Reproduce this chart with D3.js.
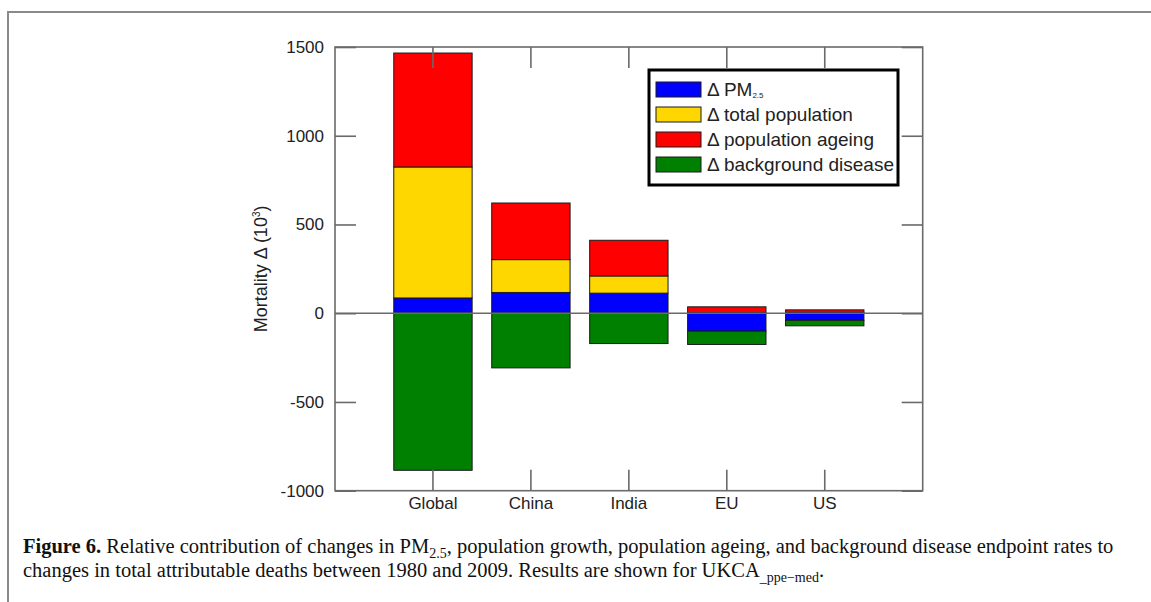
<!DOCTYPE html>
<html>
<head>
<meta charset="utf-8">
<script src="https://cdn.jsdelivr.net/npm/d3@7"></script>
<style>
  html, body { margin: 0; padding: 0; background: #fff; }
  svg { display: block; }
</style>
</head>
<body>
<svg id="chart" width="1151" height="602"></svg>
<script>
// ---- data ----
const categories = ["Global", "China", "India", "EU", "US"];
const pm25       = [86, 117, 113, -101, -40];
const totalPop   = [738, 185, 97, 3, 5];
const ageing     = [642, 319, 201, 33, 14];
const disease    = [-885, -308, -171, -75, -31];
const yTicks     = [-1000, -500, 0, 500, 1000, 1500];
const seriesKeys   = ["pm", "pop", "age", "dis"];
const seriesLabels = ["PM", "total population", "population ageing", "background disease"];
const seriesColors = ["#0000ff", "#ffd700", "#ff0000", "#008000"];

const rows = categories.map((c, i) => ({
  cat: c, pm: pm25[i], pop: totalPop[i], age: ageing[i], dis: disease[i]
}));

const svg = d3.select("#chart");
const L = 335, R = 922.7, T = 47, B = 490.7;
const sans = "'Liberation Sans', Arial, Helvetica, sans-serif";

// figure frame
svg.append("path")
  .attr("d", "M8,602 L8,12 L1151,12")
  .attr("fill", "none").attr("stroke", "#8a8a8a").attr("stroke-width", 2);

const x = d3.scaleBand().domain(categories).range([L, R])
  .paddingInner(0.2).paddingOuter(0.6);
const y = d3.scaleLinear().domain([-1000, 1500]).range([B, T]);

const stack = d3.stack().keys(seriesKeys).offset(d3.stackOffsetDiverging);
const stacked = stack(rows);

const g = svg.append("g");
g.selectAll("g.series").data(stacked).join("g")
  .attr("fill", (d, i) => seriesColors[i])
  .selectAll("rect").data(d => d).join("rect")
  .attr("x", d => x(d.data.cat))
  .attr("width", x.bandwidth())
  .attr("y", d => y(Math.max(d[0], d[1])))
  .attr("height", d => Math.abs(y(d[0]) - y(d[1])))
  .attr("stroke", "#1a1a1a").attr("stroke-width", 1);

const axisColor = "#6a6a6a";
const tickLen = 21;

function styleAxis(sel) {
  sel.select(".domain").remove();
  sel.selectAll(".tick line").attr("stroke", axisColor).attr("stroke-width", 1.6);
  sel.selectAll(".tick text")
    .attr("fill", "#222")
    .style("font-family", sans)
    .style("font-size", "17px");
}

svg.append("g").attr("transform", `translate(${L},0)`)
  .call(d3.axisLeft(y).tickValues(yTicks).tickSize(-tickLen).tickPadding(11)
    .tickFormat(d => String(d)))
  .call(styleAxis);
svg.append("g").attr("transform", `translate(${R},0)`)
  .call(d3.axisRight(y).tickValues(yTicks).tickSize(-tickLen).tickFormat(""))
  .call(styleAxis);
svg.append("g").attr("transform", `translate(0,${B})`)
  .call(d3.axisBottom(x).tickSize(-tickLen).tickPadding(6))
  .call(styleAxis);
svg.append("g").attr("transform", `translate(0,${T})`)
  .call(d3.axisTop(x).tickSize(-tickLen).tickFormat(""))
  .call(styleAxis);

// zero line
svg.append("line")
  .attr("x1", L).attr("x2", R).attr("y1", y(0)).attr("y2", y(0))
  .attr("stroke", axisColor).attr("stroke-width", 1.6);

// plot frame
svg.append("rect")
  .attr("x", L).attr("y", T).attr("width", R - L).attr("height", B - T)
  .attr("fill", "none").attr("stroke", axisColor).attr("stroke-width", 1.6);

// y-axis title
const yt = svg.append("text")
  .attr("transform", `translate(267,${(T + B) / 2}) rotate(-90)`)
  .attr("text-anchor", "middle")
  .attr("fill", "#222")
  .style("font-family", sans)
  .style("font-size", "18px");
yt.append("tspan").text("Mortality \u0394 (10");
yt.append("tspan").attr("dy", -7).style("font-size", "10px").text("3");
yt.append("tspan").attr("dy", 7).text(")");

// legend
const lg = svg.append("g");
lg.append("rect")
  .attr("x", 649).attr("y", 70).attr("width", 249).attr("height", 115)
  .attr("fill", "#fff").attr("stroke", "#000").attr("stroke-width", 3);
seriesLabels.forEach((lab, i) => {
  const yy = 82 + i * 25;
  lg.append("rect")
    .attr("x", 656).attr("y", yy).attr("width", 45).attr("height", 15)
    .attr("fill", seriesColors[i]).attr("stroke", "#1a1a1a").attr("stroke-width", 1);
  const t = lg.append("text")
    .attr("x", 707).attr("y", yy + 14)
    .attr("fill", "#222")
    .style("font-family", sans)
    .style("font-size", "19px");
  t.append("tspan").text("\u0394 " + lab);
  if (i === 0) {
    t.append("tspan").attr("dy", 2).style("font-size", "8px").text("2.5");
  }
});

// caption
const capFont = "'Liberation Serif', 'Times New Roman', serif";
const c1 = svg.append("text").attr("x", 23).attr("y", 553)
  .attr("fill", "#111").style("font-family", capFont).style("font-size", "20.5px");
c1.append("tspan").style("font-weight", "bold").text("Figure 6.");
c1.append("tspan").text(" Relative contribution of changes in PM");
c1.append("tspan").attr("dy", 5).style("font-size", "14px").text("2.5");
c1.append("tspan").attr("dy", -5).text(", population growth, population ageing, and background disease endpoint rates to");

const c2 = svg.append("text").attr("x", 23).attr("y", 577)
  .attr("fill", "#111").style("font-family", capFont).style("font-size", "20.5px");
c2.append("tspan").text("changes in total attributable deaths between 1980 and 2009. Results are shown for UKCA");
c2.append("tspan").attr("dy", 5).style("font-size", "14px").text("_ppe\u2212med");
c2.append("tspan").attr("dy", -5).text(".");
</script>
</body>
</html>
